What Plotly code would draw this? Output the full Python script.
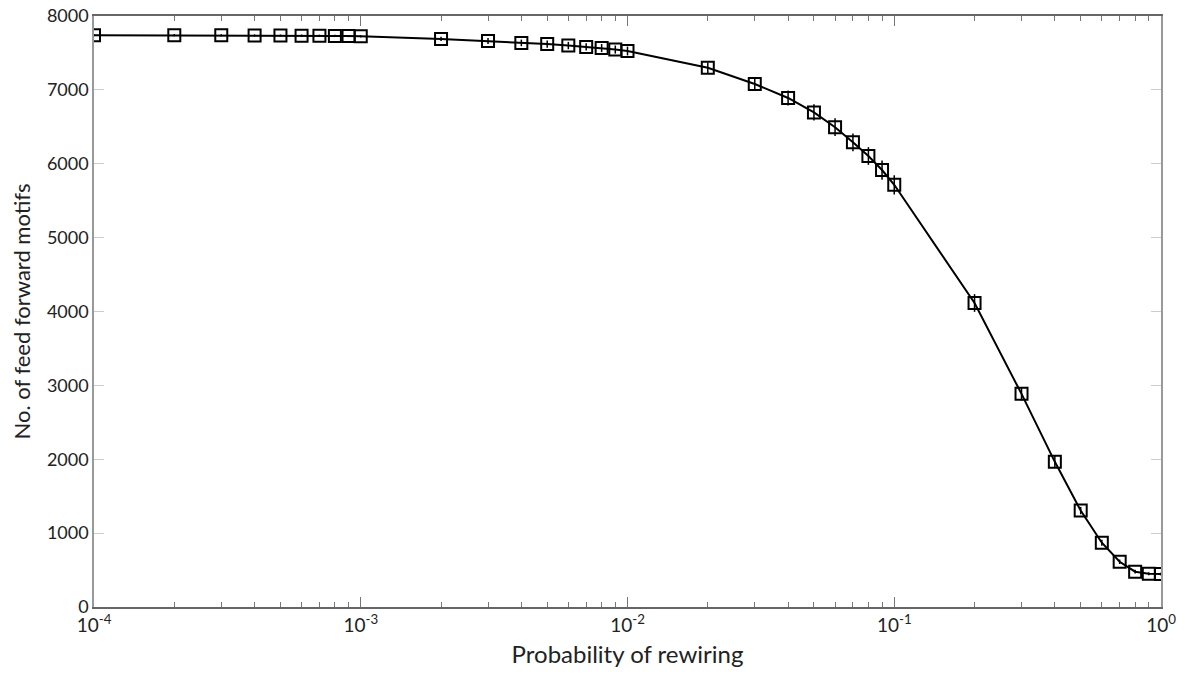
import plotly.graph_objects as go

# Probability of rewiring
p = [1e-4, 2e-4, 3e-4, 4e-4, 5e-4, 6e-4, 7e-4, 8e-4, 9e-4, 1e-3,
     2e-3, 3e-3, 4e-3, 5e-3, 6e-3, 7e-3, 8e-3, 9e-3, 1e-2,
     2e-2, 3e-2, 4e-2, 5e-2, 6e-2, 7e-2, 8e-2, 9e-2, 1e-1,
     0.2, 0.3, 0.4, 0.5, 0.6, 0.7, 0.8, 0.9, 1.0]
# Number of feed forward motifs
ffm = [7740, 7740, 7738, 7736, 7735, 7734, 7732, 7730, 7728, 7725,
       7690, 7662, 7636, 7620, 7600, 7582, 7566, 7546, 7526,
       7300, 7080, 6890, 6695, 6495, 6290, 6105, 5915, 5715,
       4115, 2885, 1965, 1305, 870, 612, 478, 450, 447]
# Error (std) of the counts
err = [15, 15, 15, 15, 15, 15, 15, 15, 15, 15,
       30, 40, 45, 50, 50, 50, 55, 55, 60,
       70, 80, 100, 110, 120, 120, 120, 130, 130,
       120, 90, 80, 50, 40, 30, 25, 20, 20]

xtick_vals = [1e-4, 1e-3, 1e-2, 1e-1, 1]
xtick_text = ["10<sup>-4</sup>", "10<sup>-3</sup>", "10<sup>-2</sup>", "10<sup>-1</sup>", "10<sup>0</sup>"]
ytick_vals = [0, 1000, 2000, 3000, 4000, 5000, 6000, 7000, 8000]

minor_vals = [m * 10 ** e for e in range(-4, 0) for m in range(2, 10)]

fig = go.Figure()
fig.add_trace(go.Scatter(
    x=p, y=ffm, mode="lines+markers",
    line=dict(color="black", width=2),
    marker=dict(symbol="square-open", size=12, color="black", line=dict(width=2)),
    error_y=dict(type="data", array=err, visible=True, color="black", thickness=1.5, width=0),
    showlegend=False,
))

font_family = "Lato, 'Open Sans', sans-serif"
fig.update_layout(
    width=1181, height=684,
    margin=dict(l=86, r=28, t=8, b=85, autoexpand=False),
    plot_bgcolor="white", paper_bgcolor="white",
    font=dict(family=font_family, color="#222"),
    xaxis=dict(
        type="log", range=[-4, 0], automargin=False,
        tickvals=xtick_vals, ticktext=xtick_text, ticklabeloverflow="allow",
        ticks="inside", ticklen=10, tickcolor="#777", tickwidth=1,
        minor=dict(tickvals=minor_vals, ticks="inside", ticklen=5, tickcolor="#777", showgrid=False),
        showline=True, linecolor="#666", linewidth=1.5, mirror="ticks",
        showgrid=False, zeroline=False,
        tickfont=dict(size=19, color="#222"),
        title=dict(text="Probability of rewiring", font=dict(size=24, color="#222"), standoff=12),
    ),
    yaxis=dict(
        range=[0, 8000], tickvals=ytick_vals, automargin=False, ticklabeloverflow="allow",
        ticks="inside", ticklen=10, tickcolor="#ccc", tickwidth=1,
        showline=True, linecolor="#999", linewidth=1.5, mirror="ticks",
        showgrid=False, zeroline=False,
        tickfont=dict(size=18, color="#222"),
        title=dict(text="No. of feed forward motifs", font=dict(size=22, color="#222"), standoff=14),
    ),
)

fig.write_html("out.html")
